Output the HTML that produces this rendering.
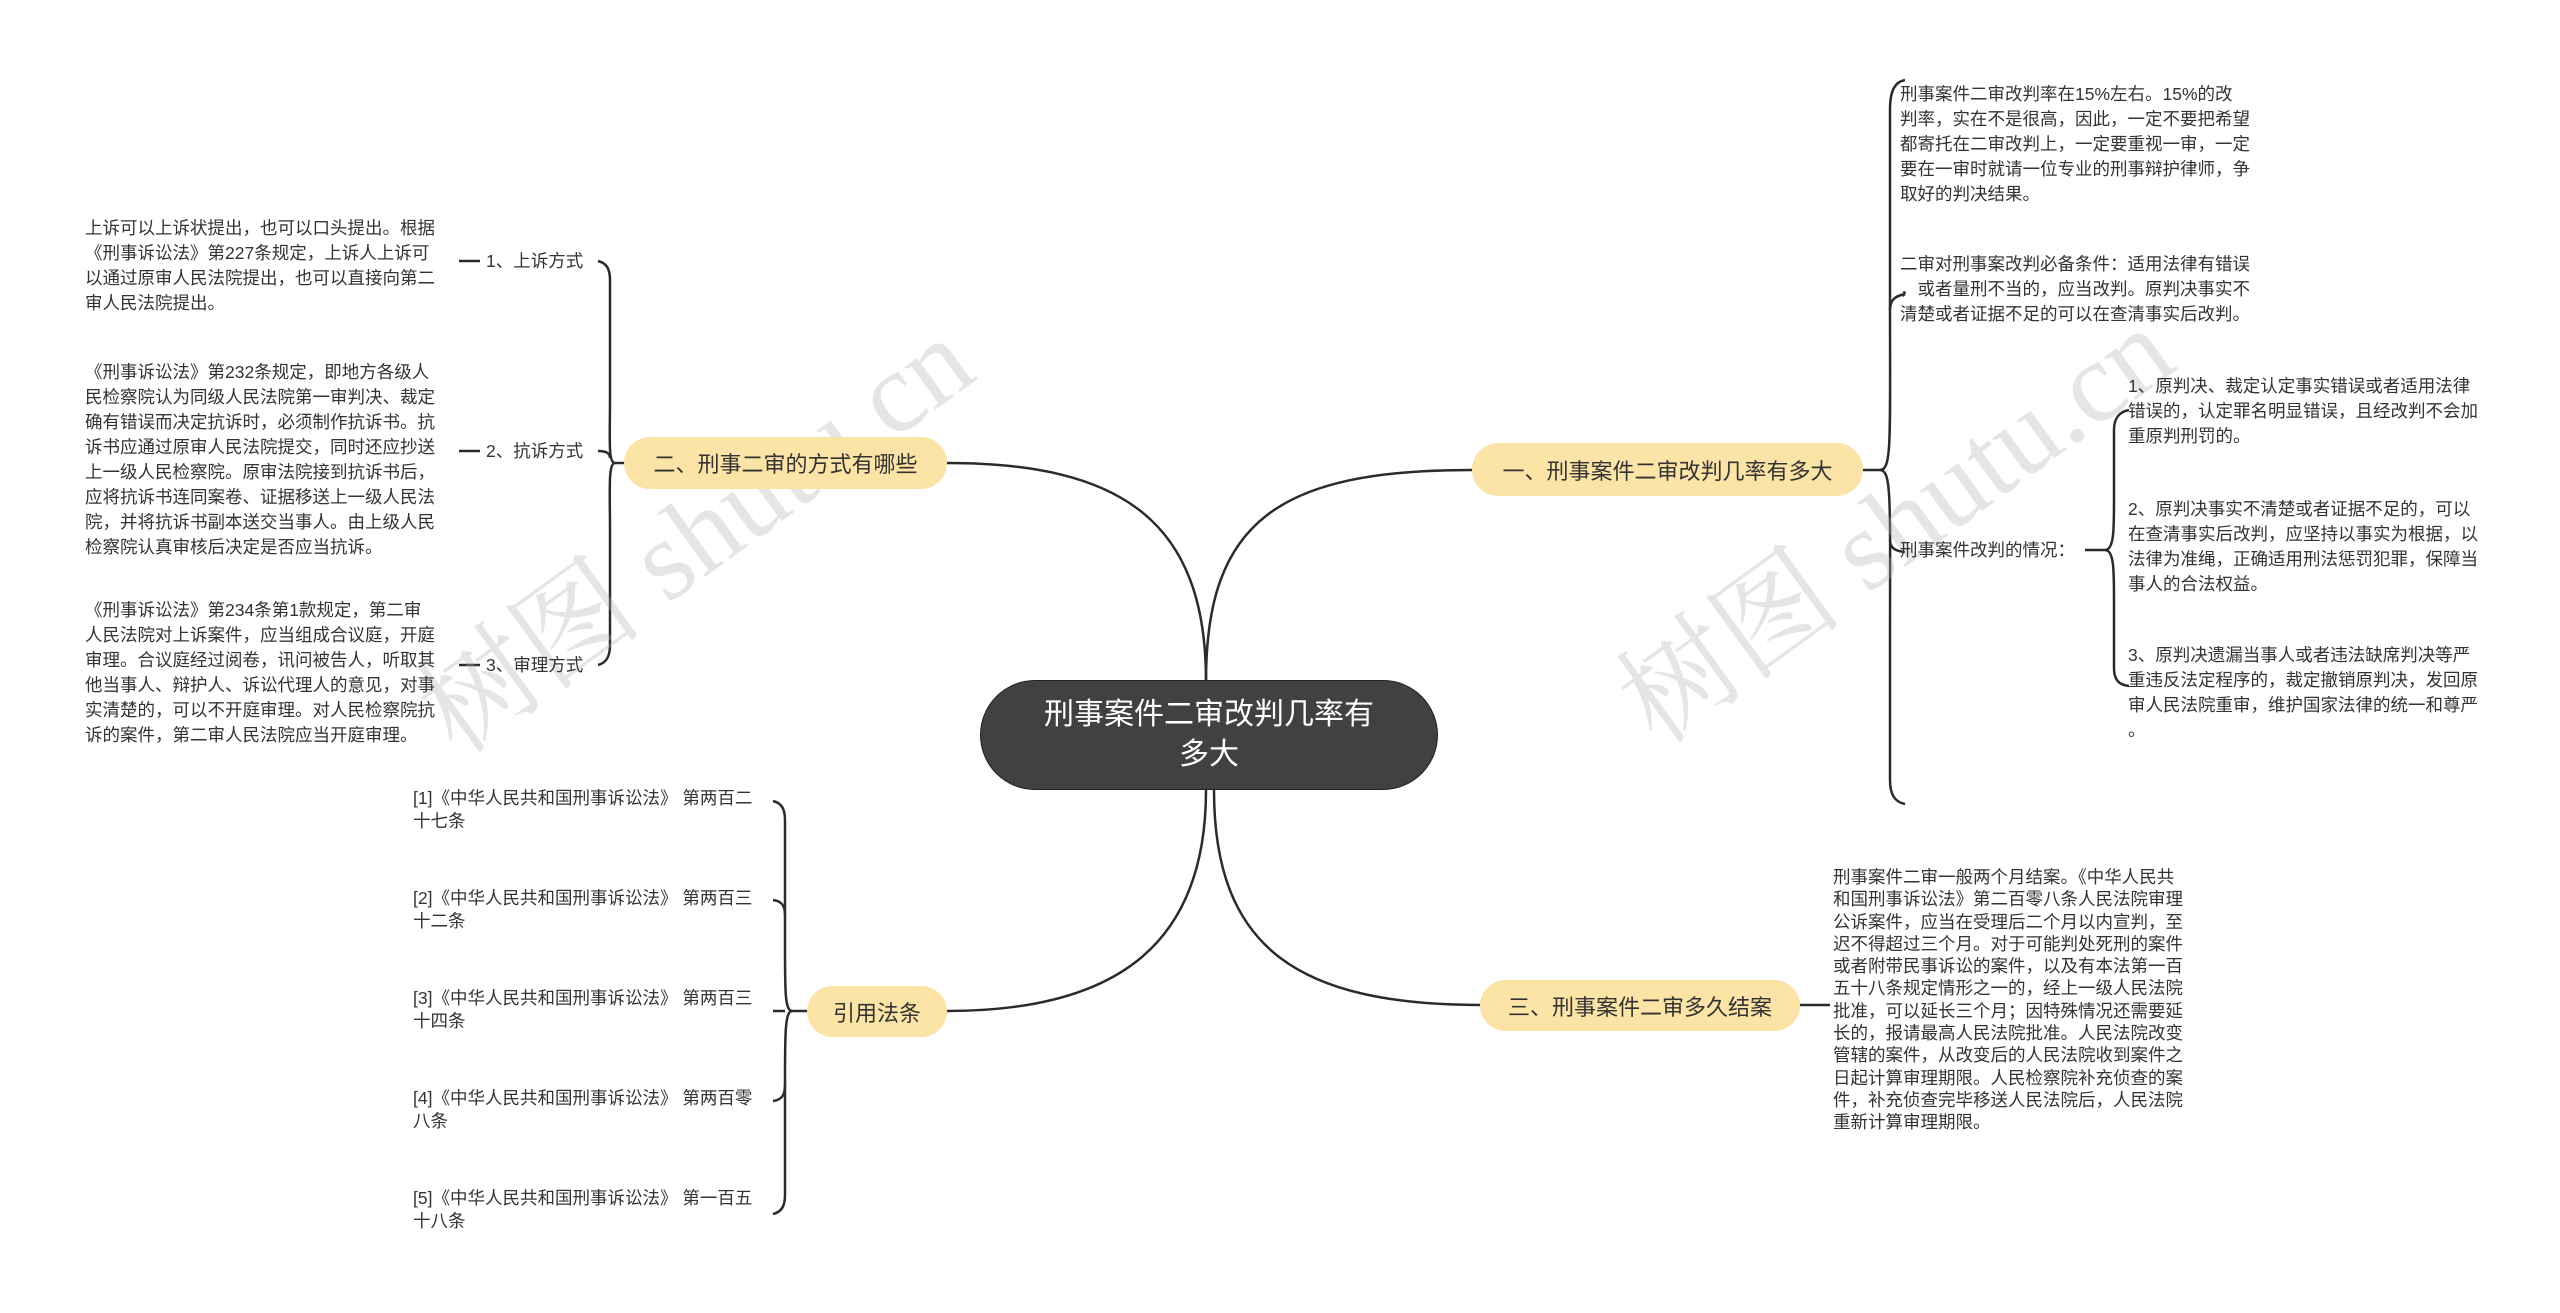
<!DOCTYPE html>
<html><head><meta charset="utf-8"><style>
html,body{margin:0;padding:0;background:#fff;}
body{width:2560px;height:1313px;position:relative;overflow:hidden;font-family:"Liberation Sans","Noto Sans CJK SC",sans-serif;color:#333;}
.t{position:absolute;font-size:17.5px;line-height:25px;white-space:nowrap;color:#333;}
.pill{position:absolute;background:#fce3a6;border-radius:28px;font-size:22px;color:#333;display:flex;align-items:center;justify-content:center;white-space:nowrap;}
.center{position:absolute;left:980px;top:680px;width:458px;height:110px;background:#414141;border-radius:55px;color:#fff;font-size:30px;line-height:40px;text-align:center;display:flex;align-items:center;justify-content:center;border:1px solid #222;box-sizing:border-box;}
.wm{position:absolute;font-family:"Liberation Serif","Noto Serif CJK SC",serif;font-size:115px;color:rgba(180,180,180,0.35);white-space:nowrap;transform:rotate(-36deg);transform-origin:left top;}
svg{position:absolute;left:0;top:0;}
</style></head><body>
<svg width="2560" height="1313" fill="none" stroke="#2b2b2b" stroke-width="2.5">
<path d="M1206 681 C1206 520 1280 470 1472 470"/>
<path d="M1206 681 C1206 520 1120 463 947 463"/>
<path d="M1214 790 C1214 950 1300 1005 1482 1005"/>
<path d="M1206 790 C1206 950 1110 1011 947 1011"/>
<path d="M1863 470 L1880 470"/>
<path d="M1880 470 C1892 470 1890 440 1890 300 L1890 110 C1890 90 1895 82 1905 80"/>
<path d="M1880 470 C1892 470 1890 500 1890 650 L1890 780 C1890 795 1895 802 1905 804"/>
<path d="M1890 310 C1890 300 1895 296 1905 294"/>
<path d="M1890 540 C1890 548 1895 551 1905 552"/>
<path d="M2085 550 L2105 550"/>
<path d="M2105 550 C2114 550 2114 530 2114 500 L2114 430 C2114 418 2119 412 2129 410"/>
<path d="M2105 550 C2114 550 2114 570 2114 600 L2114 668 C2114 680 2119 685 2129 686"/>
<path d="M628 463 L615 463"/>
<path d="M615 463 C608 463 610 440 610 400 L610 280 C610 268 606 263 598 261"/>
<path d="M615 463 C608 463 610 490 610 530 L610 645 C610 657 606 663 598 665"/>
<path d="M610 458 C610 453 606 451 598 451"/>
<path d="M459 261 L480 261"/><path d="M459 451 L480 451"/><path d="M459 665 L480 665"/>
<path d="M1800 1005 L1830 1005"/>
<path d="M809 1011 L792 1011"/>
<path d="M792 1011 C785 1011 785 990 785 950 L785 820 C785 808 781 803 773 801"/>
<path d="M792 1011 C785 1011 785 1035 785 1080 L785 1195 C785 1207 781 1212 773 1214"/>
<path d="M785 915 C785 905 781 901 773 900"/>
<path d="M785 1085 C785 1096 781 1100 773 1101"/>
<path d="M773 1011 L785 1011"/>
</svg>

<div class="wm" style="left:380px;top:650px;">树图 shutu.cn</div>
<div class="wm" style="left:1580px;top:640px;">树图 shutu.cn</div>

<div class="center"><div>刑事案件二审改判几率有<br>多大</div></div>

<div class="pill" style="left:1472px;top:443px;width:391px;height:53px;">一、刑事案件二审改判几率有多大</div>
<div class="pill" style="left:624px;top:437px;width:323px;height:52px;">二、刑事二审的方式有哪些</div>
<div class="pill" style="left:1480px;top:980px;width:320px;height:51px;">三、刑事案件二审多久结案</div>
<div class="pill" style="left:807px;top:986px;width:140px;height:51px;">引用法条</div>

<div class="t" style="left:1900px;top:82px;">刑事案件二审改判率在15%左右。15%的改<br>判率，实在不是很高，因此，一定不要把希望<br>都寄托在二审改判上，一定要重视一审，一定<br>要在一审时就请一位专业的刑事辩护律师，争<br>取好的判决结果。</div>
<div class="t" style="left:1900px;top:252px;">二审对刑事案改判必备条件：适用法律有错误<br>，或者量刑不当的，应当改判。原判决事实不<br>清楚或者证据不足的可以在查清事实后改判。</div>
<div class="t" style="left:1900px;top:538px;">刑事案件改判的情况：</div>
<div class="t" style="left:2128px;top:374px;">1、原判决、裁定认定事实错误或者适用法律<br>错误的，认定罪名明显错误，且经改判不会加<br>重原判刑罚的。</div>
<div class="t" style="left:2128px;top:497px;">2、原判决事实不清楚或者证据不足的，可以<br>在查清事实后改判，应坚持以事实为根据，以<br>法律为准绳，正确适用刑法惩罚犯罪，保障当<br>事人的合法权益。</div>
<div class="t" style="left:2128px;top:643px;">3、原判决遗漏当事人或者违法缺席判决等严<br>重违反法定程序的，裁定撤销原判决，发回原<br>审人民法院重审，维护国家法律的统一和尊严<br>。</div>

<div class="t" style="left:486px;top:249px;">1、上诉方式</div>
<div class="t" style="left:486px;top:439px;">2、抗诉方式</div>
<div class="t" style="left:486px;top:653px;">3、审理方式</div>
<div class="t" style="left:85px;top:216px;">上诉可以上诉状提出，也可以口头提出。根据<br>《刑事诉讼法》第227条规定，上诉人上诉可<br>以通过原审人民法院提出，也可以直接向第二<br>审人民法院提出。</div>
<div class="t" style="left:85px;top:360px;">《刑事诉讼法》第232条规定，即地方各级人<br>民检察院认为同级人民法院第一审判决、裁定<br>确有错误而决定抗诉时，必须制作抗诉书。抗<br>诉书应通过原审人民法院提交，同时还应抄送<br>上一级人民检察院。原审法院接到抗诉书后，<br>应将抗诉书连同案卷、证据移送上一级人民法<br>院，并将抗诉书副本送交当事人。由上级人民<br>检察院认真审核后决定是否应当抗诉。</div>
<div class="t" style="left:85px;top:598px;">《刑事诉讼法》第234条第1款规定，第二审<br>人民法院对上诉案件，应当组成合议庭，开庭<br>审理。合议庭经过阅卷，讯问被告人，听取其<br>他当事人、辩护人、诉讼代理人的意见，对事<br>实清楚的，可以不开庭审理。对人民检察院抗<br>诉的案件，第二审人民法院应当开庭审理。</div>

<div class="t" style="left:1833px;top:866px;line-height:22.3px;">刑事案件二审一般两个月结案。《中华人民共<br>和国刑事诉讼法》第二百零八条人民法院审理<br>公诉案件，应当在受理后二个月以内宣判，至<br>迟不得超过三个月。对于可能判处死刑的案件<br>或者附带民事诉讼的案件，以及有本法第一百<br>五十八条规定情形之一的，经上一级人民法院<br>批准，可以延长三个月；因特殊情况还需要延<br>长的，报请最高人民法院批准。人民法院改变<br>管辖的案件，从改变后的人民法院收到案件之<br>日起计算审理期限。人民检察院补充侦查的案<br>件，补充侦查完毕移送人民法院后，人民法院<br>重新计算审理期限。</div>

<div class="t" style="left:413px;top:787px;line-height:23px;">[1]《中华人民共和国刑事诉讼法》 第两百二<br>十七条</div>
<div class="t" style="left:413px;top:887px;line-height:23px;">[2]《中华人民共和国刑事诉讼法》 第两百三<br>十二条</div>
<div class="t" style="left:413px;top:987px;line-height:23px;">[3]《中华人民共和国刑事诉讼法》 第两百三<br>十四条</div>
<div class="t" style="left:413px;top:1087px;line-height:23px;">[4]《中华人民共和国刑事诉讼法》 第两百零<br>八条</div>
<div class="t" style="left:413px;top:1187px;line-height:23px;">[5]《中华人民共和国刑事诉讼法》 第一百五<br>十八条</div>
</body></html>
